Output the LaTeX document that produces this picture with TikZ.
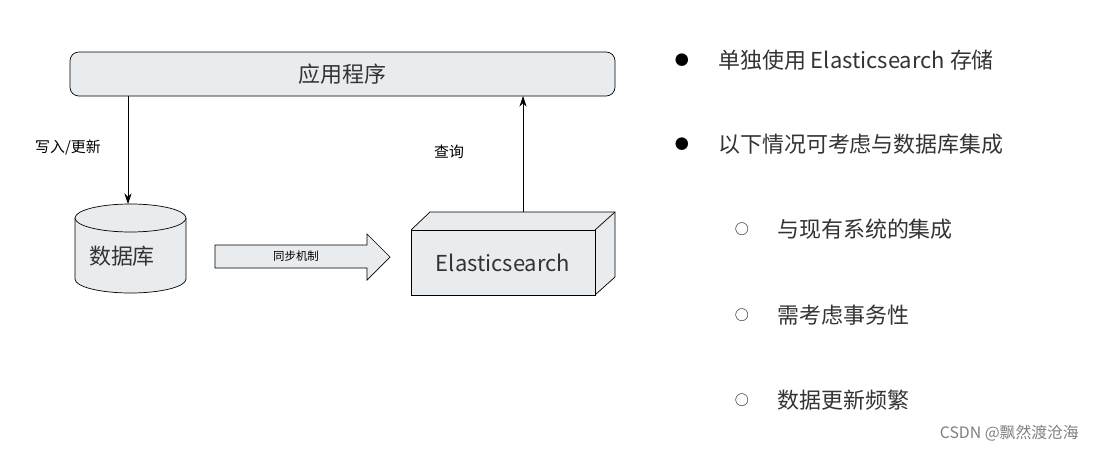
\documentclass[tikz,border=0pt]{standalone}
\usepackage{fontspec}
\setmainfont{Noto Sans CJK SC}
\usetikzlibrary{arrows.meta}
\definecolor{boxg}{HTML}{E9ECEE}
\definecolor{txt}{HTML}{333333}
\tikzset{
  big/.style={font=\fontsize{12.5}{14}\selectfont, text=txt},
  small/.style={font=\fontsize{8.5}{10}\selectfont, text=black},
  bul/.style={font=\fontsize{12.5}{14}\selectfont, text=txt, anchor=west},
  dot/.style={font=\fontsize{8}{10}\selectfont, text=black},
  conn/.style={-{Stealth[length=6pt,width=4pt]}, thin},
}
\begin{document}
\begin{tikzpicture}[x=0.02cm,y=-0.02cm]
\useasboundingbox (0,0) rectangle (1098,453);
% app box
\node[draw, fill=boxg, rounded corners=5pt, minimum width=545*0.02cm, minimum height=44*0.02cm, big] (app) at (342.5,74) {应用程序};
% cylinder
\draw[fill=boxg] (75,218) -- (75,279) arc[start angle=180, end angle=360, x radius=55.5, y radius=-14] -- (186,218);
\draw[fill=boxg] (130.5,218) ellipse[x radius=55.5, y radius=14];
\node[big] (db) at (122,256) {数据库};
\coordinate (dbtop) at (128,204);
\coordinate (appl) at (128,96);
\draw[conn] (appl) -- (dbtop);
\node[small] at (68,148) {写入/更新};
% block arrow
\draw[fill=boxg] (215,245) -- (367,245) -- (367,234) -- (390,257) -- (367,280) -- (367,268) -- (215,268) -- cycle;
\node[font=\fontsize{6.5}{8}\selectfont] (sync) at (296,256) {同步机制};
% 3D box
\fill[boxg] (411,230) -- (430,212) -- (615,212) -- (615,277) -- (595,295) -- (411,295) -- cycle;
\draw (411,230) -- (430,212) -- (615,212) -- (615,277) -- (595,295);
\draw (595,230) -- (615,212);
\node[draw, fill=boxg, minimum width=184*0.02cm, minimum height=65*0.02cm, inner sep=0pt, big] (es) at (503,262.5) {Elasticsearch};
\coordinate (estop) at (523,212);
\coordinate (appr) at (523,96);
\draw[conn] (estop) -- (appr);
\node[small] at (449,152) {查询};
% bullets
\node[dot] at (682,60) {●};
\node[bul] at (712,60) {单独使用 Elasticsearch 存储};
\node[dot] at (682,144) {●};
\node[bul] at (712,144) {以下情况可考虑与数据库集成};
\node[dot] at (742,229) {○};
\node[bul] at (771,229) {与现有系统的集成};
\node[dot] at (742,315) {○};
\node[bul] at (771,315) {需考虑事务性};
\node[dot] at (742,400) {○};
\node[bul] at (771,400) {数据更新频繁};
\node[font=\fontsize{9}{10}\selectfont, text=gray, anchor=east] at (1085,433) {CSDN @飘然渡沧海};
\end{tikzpicture}
\end{document}
